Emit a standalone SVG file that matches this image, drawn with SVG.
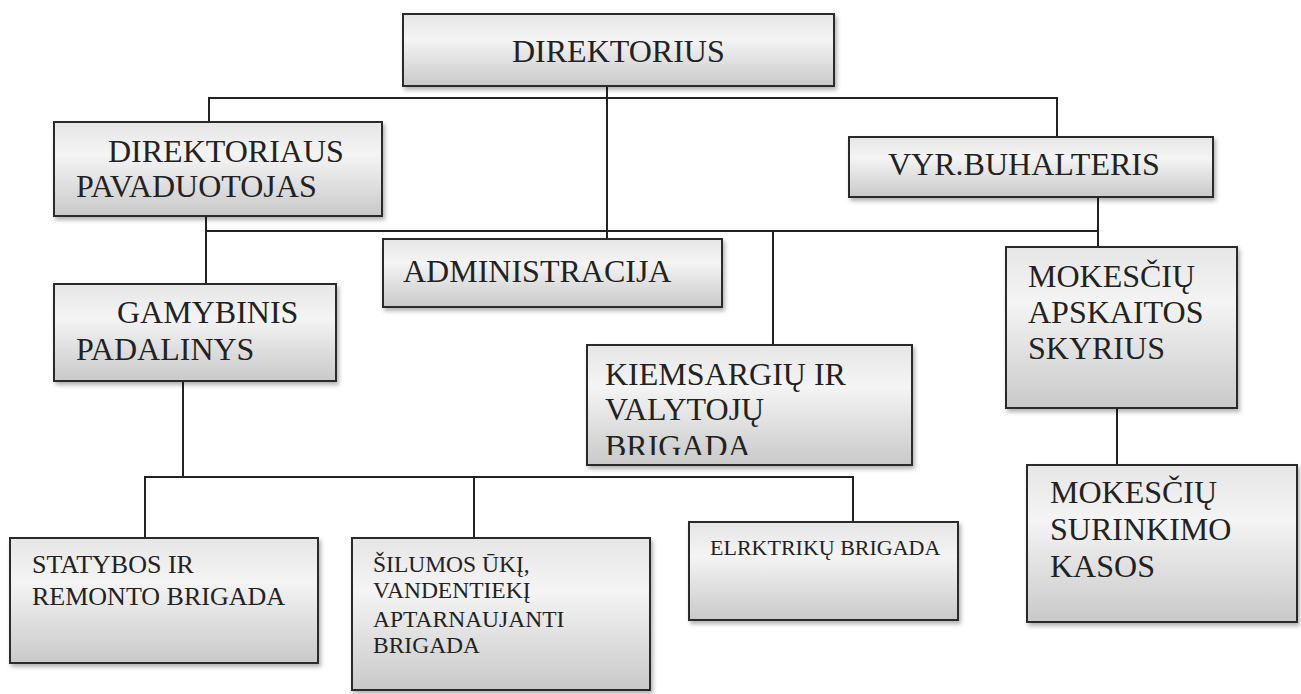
<svg xmlns="http://www.w3.org/2000/svg" width="1301" height="694" viewBox="0 0 1301 694">
<defs>
<linearGradient id="g" x1="0" y1="0" x2="0" y2="1">
<stop offset="0" stop-color="#e6e6e6"/>
<stop offset="0.35" stop-color="#f4f4f4"/>
<stop offset="1" stop-color="#c9c9c9"/>
</linearGradient>
<filter id="sh" x="-5%" y="-5%" width="112%" height="125%">
<feDropShadow dx="2" dy="3" stdDeviation="2" flood-color="#000" flood-opacity="0.3"/>
</filter>
<clipPath id="kclip"><rect x="587" y="345" width="325" height="110"/></clipPath>
</defs>
<style>
.box{fill:url(#g);stroke:#2a2a2a;stroke-width:2;filter:url(#sh)}
.t{font-family:'Liberation Serif','Times New Roman',serif;fill:#222;font-size:32px}
.s{font-size:26px}
.s2{font-size:23.5px}
.xs{font-size:22px}
.c{fill:none;stroke:#222;stroke-width:2}
</style>
<rect width="1301" height="694" fill="#fff"/>
<g id="connectors">
<path class="c" d="M209 122V98H1057V137"/>
<path class="c" d="M607 86V239"/>
<path class="c" d="M206 216V283"/>
<path class="c" d="M206 231H1098"/>
<path class="c" d="M1098 197V247"/>
<path class="c" d="M773 231V345"/>
<path class="c" d="M1117 408V465"/>
<path class="c" d="M183 381V477"/>
<path class="c" d="M145 538V477H853V522"/>
<path class="c" d="M474 477V538"/>
</g>
<g id="n-direktorius">
<rect class="box" x="403" y="14" width="431" height="72"/>
<text class="t" x="512" y="62">DIREKTORIUS</text>
</g>
<g id="n-pavaduotojas">
<rect class="box" x="54" y="122" width="328" height="94"/>
<text class="t" x="108" y="162">DIREKTORIAUS</text>
<text class="t" x="76" y="197">PAVADUOTOJAS</text>
</g>
<g id="n-buhalteris">
<rect class="box" x="849" y="137" width="364" height="60"/>
<text class="t" x="888" y="175">VYR.BUHALTERIS</text>
</g>
<g id="n-administracija">
<rect class="box" x="383" y="239" width="339" height="68"/>
<text class="t" x="403" y="282">ADMINISTRACIJA</text>
</g>
<g id="n-gamybinis">
<rect class="box" x="54" y="284" width="282" height="97"/>
<text class="t" x="117" y="323">GAMYBINIS</text>
<text class="t" x="76" y="360">PADALINYS</text>
</g>
<g id="n-kiemsargiu">
<rect class="box" x="587" y="345" width="325" height="120"/>
<g clip-path="url(#kclip)">
<text class="t" x="605" y="385">KIEMSARGIŲ IR</text>
<text class="t" x="605" y="420">VALYTOJŲ</text>
<text class="t" x="605" y="457">BRIGADA</text>
</g>
</g>
<g id="n-mokesciu-apskaitos">
<rect class="box" x="1006" y="247" width="231" height="161"/>
<text class="t" x="1028" y="287">MOKESČIŲ</text>
<text class="t" x="1028" y="323">APSKAITOS</text>
<text class="t" x="1028" y="359">SKYRIUS</text>
</g>
<g id="n-mokesciu-surinkimo">
<rect class="box" x="1027" y="465" width="270" height="157"/>
<text class="t" x="1050" y="503">MOKESČIŲ</text>
<text class="t" x="1050" y="540">SURINKIMO</text>
<text class="t" x="1050" y="577">KASOS</text>
</g>
<g id="n-statybos">
<rect class="box" x="10" y="538" width="308" height="125"/>
<text class="t s" x="32" y="573">STATYBOS IR</text>
<text class="t s" x="32" y="605">REMONTO BRIGADA</text>
</g>
<g id="n-silumos">
<rect class="box" x="352" y="538" width="298" height="152"/>
<text class="t s2" x="373" y="572">ŠILUMOS ŪKĮ,</text>
<text class="t s2" x="373" y="598">VANDENTIEKĮ</text>
<text class="t s2" x="373" y="627">APTARNAUJANTI</text>
<text class="t s2" x="373" y="653">BRIGADA</text>
</g>
<g id="n-elektriku">
<rect class="box" x="689" y="522" width="269" height="98"/>
<text class="t xs" x="710" y="555">ELRKTRIKŲ BRIGADA</text>
</g>
</svg>
